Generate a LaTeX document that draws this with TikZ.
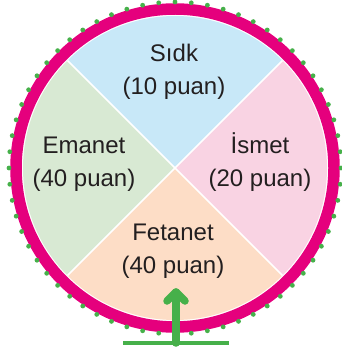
\documentclass[tikz,border=0pt]{standalone}
\usepackage{fontspec}
\setmainfont{Liberation Sans}
\usetikzlibrary{calc}
\definecolor{mag}{RGB}{229,0,125}
\definecolor{dotgreen}{RGB}{70,176,74}
\definecolor{skyfill}{RGB}{200,232,248}
\definecolor{pinkfill}{RGB}{249,211,227}
\definecolor{peachfill}{RGB}{253,221,198}
\definecolor{greenfill}{RGB}{216,233,211}
\definecolor{txt}{RGB}{35,31,32}
\begin{document}
\begin{tikzpicture}[x=1pt,y=-1pt,
  lbl/.style={text=txt,font=\fontsize{24}{33}\selectfont,align=center,inner sep=0pt,anchor=base},
  sep/.style={white,line width=1.5pt},
  ptr/.style={dotgreen,line width=7.5pt,line cap=round,line join=round}]
\useasboundingbox (0,0) rectangle (341,355);
\coordinate (c) at (175,168);
% sectors
\fill[skyfill]   (c) -- ++(-45:152) arc[start angle=-45,end angle=-135,radius=152] -- cycle;
\fill[pinkfill]  (c) -- ++(-45:152) arc[start angle=-45,end angle=45,radius=152] -- cycle;
\fill[peachfill] (c) -- ++(45:152) arc[start angle=45,end angle=135,radius=152] -- cycle;
\fill[greenfill] (c) -- ++(135:152) arc[start angle=135,end angle=225,radius=152] -- cycle;
\draw[sep] (c) -- ++(45:152);
\draw[sep] (c) -- ++(135:152);
\draw[sep] (c) -- ++(-45:152);
\draw[sep] (c) -- ++(-135:152);
% ring
\draw[mag,line width=11.5pt] (c) circle[radius=159];
\foreach \i in {0,...,63}{
  \fill[dotgreen] (c) ++(\i*5.625:166) circle[radius=2.4];
}
% labels
\node[lbl] (sidk) at (174,95) {Sıdk\\(10 puan)};
\node[lbl] (emanet) at (84,186) {Emanet\\(40 puan)};
\node[lbl] (ismet) at (260,186) {İsmet\\(20 puan)};
\node[lbl] (fetanet) at (173,273) {Fetanet\\(40 puan)};
% pointer
\coordinate (base) at (176,343);
\coordinate (tip) at (176,292);
\coordinate (bl) at (123,343);
\coordinate (br) at (229,343);
\draw[dotgreen,line width=4pt] (bl) -- (br);
\draw[ptr] (base) -- (tip);
\draw[ptr] ($(tip)+(-9,9)$) -- (tip) -- ($(tip)+(9,9)$);
\end{tikzpicture}
\end{document}
